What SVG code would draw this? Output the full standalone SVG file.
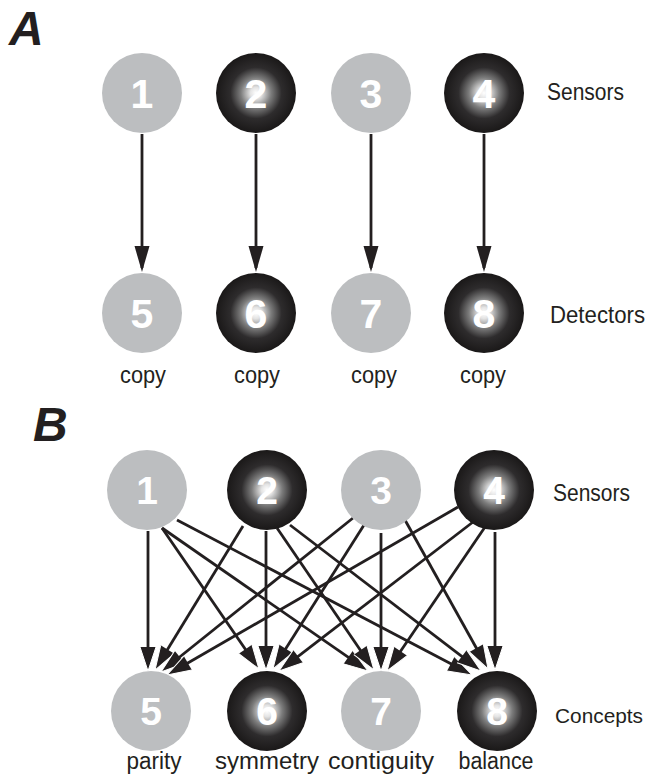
<svg xmlns="http://www.w3.org/2000/svg" width="649" height="774" viewBox="0 0 649 774">
<style>
.lt{fill:#bcbec0}
.dk{fill:url(#dark)}
.numA{font-family:"Liberation Sans",Arial,sans-serif;font-weight:bold;font-size:41px;fill:#fff;text-anchor:middle}
.numB{font-family:"Liberation Sans",Arial,sans-serif;font-weight:bold;font-size:39px;fill:#fff;text-anchor:middle}
.lbl{font-family:"Liberation Sans",Arial,sans-serif;font-size:23px;fill:#231f20}
.mid{text-anchor:middle}
.panel{font-family:"Liberation Sans",Arial,sans-serif;font-weight:bold;font-style:italic;font-size:48px;fill:#231f20}
.edge{stroke:#231f20;stroke-width:2.8;fill:none}
.ea{marker-end:url(#headA)}
.eb{marker-end:url(#headB)}
</style>
<defs>
<radialGradient id="dark" cx="0.5" cy="0.5" r="0.5">
<stop offset="0" stop-color="#ffffff"/>
<stop offset="0.14" stop-color="#e4e4e4"/>
<stop offset="0.38" stop-color="#7c7c7c"/>
<stop offset="0.64" stop-color="#2e2c2d"/>
<stop offset="1" stop-color="#1a1818"/>
</radialGradient>
<marker id="headA" markerUnits="userSpaceOnUse" viewBox="-1 -1 29 17" markerWidth="29" markerHeight="17" refX="22" refY="7.5" orient="auto">
<path d="M0,0 L26,7.5 L0,15 Z" fill="#231f20"/>
</marker>
<marker id="headB" markerUnits="userSpaceOnUse" viewBox="-1 -1 27 18" markerWidth="27" markerHeight="18" refX="20" refY="8" orient="auto">
<path d="M0,0 L24,8 L0,16 Z" fill="#231f20"/>
<path d="M0,0 L24,8 L0,16" fill="none" stroke="#fff" stroke-width="1" stroke-linejoin="round"/>
</marker>
</defs>

<text class="panel" x="9" y="45">A</text>
<text class="panel" x="33" y="441">B</text>

<g id="connectors-A">
<line class="edge ea" x1="142" y1="134" x2="142" y2="268"/>
<line class="edge ea" x1="256" y1="134" x2="256" y2="268"/>
<line class="edge ea" x1="371" y1="134" x2="371" y2="268"/>
<line class="edge ea" x1="484" y1="134" x2="484" y2="268"/>
</g>

<g id="connectors-B">
<line class="edge eb" x1="148" y1="531" x2="148" y2="667"/>
<line class="edge eb" x1="162" y1="528" x2="256.7" y2="665.7"/>
<line class="edge eb" x1="162" y1="528" x2="364.7" y2="668.7"/>
<line class="edge eb" x1="177" y1="520" x2="468.5" y2="673.1"/>
<line class="edge eb" x1="243" y1="526" x2="157.1" y2="666.6"/>
<line class="edge eb" x1="266" y1="531" x2="266" y2="666"/>
<line class="edge eb" x1="277" y1="528" x2="371.7" y2="666.7"/>
<line class="edge eb" x1="290" y1="525" x2="477.8" y2="668.6"/>
<line class="edge eb" x1="353" y1="518" x2="164.1" y2="669.5"/>
<line class="edge eb" x1="364" y1="525" x2="275.1" y2="665.6"/>
<line class="edge eb" x1="381" y1="533" x2="381" y2="667"/>
<line class="edge eb" x1="405" y1="520" x2="486.1" y2="665.5"/>
<line class="edge eb" x1="458" y1="507" x2="170.5" y2="673"/>
<line class="edge eb" x1="473" y1="522" x2="282.2" y2="668.6"/>
<line class="edge eb" x1="485" y1="527" x2="389.3" y2="667.7"/>
<line class="edge eb" x1="495" y1="532" x2="495" y2="666"/>
</g>

<g id="A-node1"><circle class="lt" cx="142" cy="93" r="40"/><text class="numA" x="142" y="108">1</text></g>
<g id="A-node2"><circle class="dk" cx="256" cy="93" r="40"/><text class="numA" x="256" y="108">2</text></g>
<g id="A-node3"><circle class="lt" cx="371" cy="93" r="40"/><text class="numA" x="371" y="108">3</text></g>
<g id="A-node4"><circle class="dk" cx="484" cy="93" r="40"/><text class="numA" x="484" y="108">4</text></g>
<g id="A-node5"><circle class="lt" cx="142" cy="313" r="40"/><text class="numA" x="142" y="328">5</text><text class="lbl mid" x="143" y="383" textLength="46" lengthAdjust="spacingAndGlyphs">copy</text></g>
<g id="A-node6"><circle class="dk" cx="256" cy="313" r="40"/><text class="numA" x="256" y="328">6</text><text class="lbl mid" x="257" y="383" textLength="46" lengthAdjust="spacingAndGlyphs">copy</text></g>
<g id="A-node7"><circle class="lt" cx="371" cy="313" r="40"/><text class="numA" x="371" y="328">7</text><text class="lbl mid" x="374" y="383" textLength="46" lengthAdjust="spacingAndGlyphs">copy</text></g>
<g id="A-node8"><circle class="dk" cx="484" cy="313" r="40"/><text class="numA" x="484" y="328">8</text><text class="lbl mid" x="483" y="383" textLength="46" lengthAdjust="spacingAndGlyphs">copy</text></g>
<g id="A-labels">
<text class="lbl" x="547" y="100" textLength="77" lengthAdjust="spacingAndGlyphs">Sensors</text>
<text class="lbl" x="550" y="323" textLength="95" lengthAdjust="spacingAndGlyphs">Detectors</text>
</g>

<g id="B-node1"><circle class="lt" cx="147" cy="490" r="40"/><text class="numB" x="147" y="504">1</text></g>
<g id="B-node2"><circle class="dk" cx="267" cy="490" r="40"/><text class="numB" x="267" y="504">2</text></g>
<g id="B-node3"><circle class="lt" cx="381" cy="490" r="40"/><text class="numB" x="381" y="504">3</text></g>
<g id="B-node4"><circle class="dk" cx="494" cy="490" r="40"/><text class="numB" x="494" y="504">4</text></g>
<g id="B-node5"><circle class="lt" cx="151" cy="711" r="40"/><text class="numB" x="151" y="725">5</text><text class="lbl mid" x="154" y="769" textLength="55" lengthAdjust="spacingAndGlyphs">parity</text></g>
<g id="B-node6"><circle class="dk" cx="267" cy="711" r="40"/><text class="numB" x="267" y="725">6</text><text class="lbl mid" x="267" y="769" textLength="104" lengthAdjust="spacingAndGlyphs">symmetry</text></g>
<g id="B-node7"><circle class="lt" cx="381" cy="711" r="40"/><text class="numB" x="381" y="725">7</text><text class="lbl mid" x="381" y="769" textLength="106" lengthAdjust="spacingAndGlyphs">contiguity</text></g>
<g id="B-node8"><circle class="dk" cx="497" cy="711" r="40"/><text class="numB" x="497" y="725">8</text><text class="lbl mid" x="496" y="769" textLength="75" lengthAdjust="spacingAndGlyphs">balance</text></g>
<g id="B-labels">
<text class="lbl" x="553" y="501" textLength="77" lengthAdjust="spacingAndGlyphs">Sensors</text>
<text class="lbl" x="555" y="723" style="font-size:21px" textLength="88" lengthAdjust="spacingAndGlyphs">Concepts</text>
</g>
</svg>
